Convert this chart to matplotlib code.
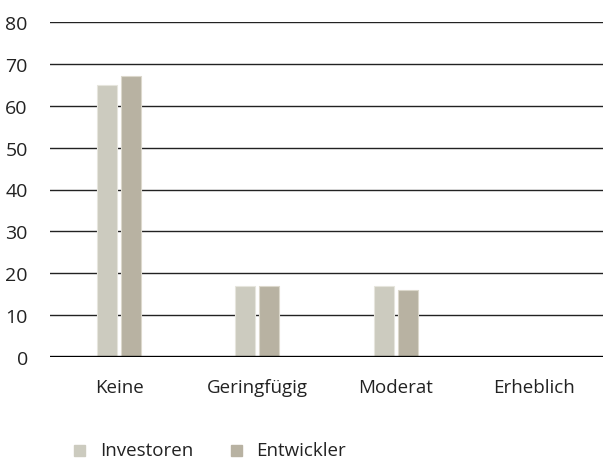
import matplotlib.pyplot as plt
import numpy as np

categories = ['Keine', 'Geringfügig', 'Moderat', 'Erheblich']
investoren = [65, 17, 17, 0]
entwickler = [67, 17, 16, 0]
y_ticks = [0, 10, 20, 30, 40, 50, 60, 70, 80]

plt.rcParams['font.family'] = ['Open Sans', 'DejaVu Sans']

fig = plt.figure(figsize=(6.03, 4.6), dpi=100)
ax = fig.add_axes([50 / 603, 1 - 358 / 460, 553 / 603, 335 / 460])

x = np.arange(len(categories))
w = 0.145
ax.bar(x - 0.087, investoren, w, color='#cccbbf', edgecolor='#e6e5dd', linewidth=0.8, zorder=3)
ax.bar(x + 0.087, entwickler, w, color='#b8b2a2', edgecolor='#dcd8cc', linewidth=0.8, zorder=3)

ax.set_xlim(-0.5, 3.5)
ax.set_ylim(0, 80)
ax.set_yticks(y_ticks)
for t in y_ticks[1:]:
    ax.axhline(t, color='#222222', linewidth=1.0, zorder=1)
ax.axhline(0, color='black', linewidth=2.4, zorder=4)

for s in ax.spines.values():
    s.set_visible(False)
ax.tick_params(axis='y', length=0, pad=16, labelsize=14, labelcolor='#222222')
ax.tick_params(axis='x', length=0, pad=15, labelsize=13.5, labelcolor='#222222')
ax.set_xticks(x)
ax.set_xticklabels(categories)

# legend
fig.patches.append(plt.Rectangle((74 / 603, 1 - 457 / 460), 11 / 603, 11 / 460,
                                 transform=fig.transFigure, color='#cccbbf'))
fig.text(100 / 603, 1 - 451 / 460, 'Investoren', fontsize=13.5, va='center', color='#222222')
fig.patches.append(plt.Rectangle((231 / 603, 1 - 457 / 460), 11 / 603, 11 / 460,
                                 transform=fig.transFigure, color='#b8b2a2'))
fig.text(256 / 603, 1 - 451 / 460, 'Entwickler', fontsize=13.5, va='center', color='#222222')

fig.savefig('out.png', dpi=100)
